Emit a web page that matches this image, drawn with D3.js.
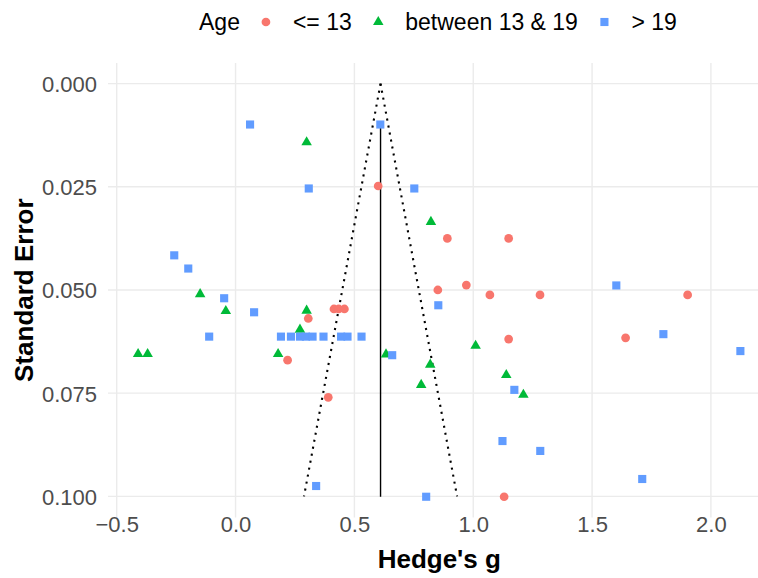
<!DOCTYPE html>
<html>
<head>
<meta charset="utf-8">
<script src="https://cdn.jsdelivr.net/npm/d3@7"></script>
<style>
body{margin:0;background:#fff;}
text{font-family:"Liberation Sans",Arial,Helvetica,sans-serif;}
</style>
</head>
<body>
<script>
// legend categories and colours (ggplot defaults)
var groups=["<= 13","between 13 & 19","> 19"];
var groupColors=["#F8766D","#00BA38","#619CFF"];

// Age <= 13 (circles)
var youngG=[0.600,0.891,1.149,0.851,0.971,1.070,1.281,1.902,0.414,0.434,0.458,0.306,1.149,1.641,0.219,0.390,1.130];
var youngSE=[0.0248,0.0375,0.0375,0.0500,0.0488,0.0512,0.0512,0.0512,0.0546,0.0546,0.0546,0.0569,0.0619,0.0616,0.0670,0.0760,0.1001];

// between 13 & 19 (triangles)
var teenG=[0.299,0.822,-0.149,-0.041,0.299,0.271,-0.410,-0.370,0.179,0.633,1.010,0.819,0.781,1.139,1.211];
var teenSE=[0.0142,0.0335,0.0510,0.0551,0.0550,0.0596,0.0655,0.0655,0.0655,0.0656,0.0635,0.0681,0.0730,0.0706,0.0754];

// > 19 (squares)
var adultG=[0.061,0.609,0.308,0.752,-0.258,-0.199,-0.048,0.078,1.602,0.853,-0.111,0.191,0.233,0.271,0.296,0.324,0.370,0.444,0.471,0.530,0.659,1.800,2.124,1.173,1.123,1.282,1.711,0.339,0.802];
var adultSE=[0.0099,0.0099,0.0254,0.0254,0.0416,0.0448,0.0520,0.0554,0.0489,0.0537,0.0613,0.0613,0.0613,0.0613,0.0613,0.0613,0.0613,0.0613,0.0613,0.0613,0.0658,0.0607,0.0648,0.0742,0.0866,0.0890,0.0958,0.0975,0.1001];

// pooled estimate and funnel ends (apex at se 0, base at se 0.1)
var pooledG=0.61;
var funnelSE=[0,0.1];
var funnelLower=[0.61,0.288];
var funnelUpper=[0.61,0.932];

// tick labels
var xTicks=[-0.5,0,0.5,1,1.5,2];
var yTicks=[0,0.025,0.05,0.075,0.1];

window.onload=function(){
	var w=758,h=578;
	var svg=d3.select("body").append("svg")
		.attr("width",w)
		.attr("height",h);

	var left=108,right=770.5,top=63,bottom=517.4;

	// ggplot style 5% expansion on both scales
	var allG=youngG.concat(teenG,adultG,funnelLower,funnelUpper);
	var gExt=d3.extent(allG), gPad=(gExt[1]-gExt[0])*0.05;
	var allSE=youngSE.concat(teenSE,adultSE,funnelSE);
	var sExt=d3.extent(allSE), sPad=(sExt[1]-sExt[0])*0.05;

	var x=d3.scaleLinear()
		.domain([gExt[0]-gPad,gExt[1]+gPad])
		.range([left,right]);
	var y=d3.scaleLinear()
		.domain([sExt[0]-sPad,sExt[1]+sPad])
		.range([top,bottom]); // reversed: 0 at top

	// grid
	var grid=svg.append("g").attr("class","grid");
	grid.selectAll(".vgrid")
		.data(xTicks)
		.enter()
		.append("line")
		.attr("x1",function(d){return x(d);})
		.attr("x2",function(d){return x(d);})
		.attr("y1",top)
		.attr("y2",bottom)
		.style("stroke","#EBEBEB")
		.style("stroke-width",1.4);
	grid.selectAll(".hgrid")
		.data(yTicks)
		.enter()
		.append("line")
		.attr("x1",left)
		.attr("x2",right)
		.attr("y1",function(d){return y(d);})
		.attr("y2",function(d){return y(d);})
		.style("stroke","#EBEBEB")
		.style("stroke-width",1.4);

	// axes (no lines, no ticks, just labels)
	var xAxis=d3.axisBottom(x)
		.tickValues(xTicks)
		.tickSize(0)
		.tickPadding(0)
		.tickFormat(d3.format(".1f"));
	var gx=svg.append("g")
		.attr("transform","translate(0,"+bottom+")")
		.call(xAxis);
	gx.select(".domain").remove();
	gx.selectAll("text")
		.attr("y",14.5)
		.attr("dy",0)
		.style("font-size","22px")
		.style("font-family","'Liberation Sans',Arial,sans-serif")
		.style("fill","#4D4D4D");

	var yAxis=d3.axisLeft(y)
		.tickValues(yTicks)
		.tickSize(0)
		.tickPadding(11)
		.tickFormat(d3.format(".3f"));
	var gy=svg.append("g")
		.attr("transform","translate("+left+",0)")
		.call(yAxis);
	gy.select(".domain").remove();
	gy.selectAll("text")
		.attr("dy","0.36em")
		.style("font-size","22px")
		.style("font-family","'Liberation Sans',Arial,sans-serif")
		.style("fill","#4D4D4D");

	// funnel (dotted) and pooled estimate
	var line=d3.line()
		.x(function(d){return x(d[0]);})
		.y(function(d){return y(d[1]);});
	[funnelLower,funnelUpper].forEach(function(side){
		svg.append("path")
			.datum(d3.zip(side,funnelSE))
			.attr("d",line)
			.style("fill","none")
			.style("stroke","#000")
			.style("stroke-width",2.1)
			.style("stroke-dasharray","2.1,5");
	});
	var dataSE=d3.extent(youngSE.concat(teenSE,adultSE));
	svg.append("line")
		.attr("x1",x(pooledG))
		.attr("x2",x(pooledG))
		.attr("y1",y(dataSE[0]))
		.attr("y2",y(dataSE[1]))
		.style("stroke","#000")
		.style("stroke-width",1.4);

	// points
	var symbols=[d3.symbolCircle,d3.symbolTriangle,d3.symbolSquare];
	var sizes=[60,48,66];
	var sets=[[youngG,youngSE],[teenG,teenSE],[adultG,adultSE]];
	var drawOrder=[1,0,2];
	drawOrder.forEach(function(k){
		var pts=d3.zip(sets[k][0],sets[k][1]);
		svg.selectAll(".pts"+k)
			.data(pts)
			.enter()
			.append("path")
			.attr("class","pts"+k)
			.attr("d",d3.symbol().type(symbols[k]).size(sizes[k]))
			.attr("transform",function(d){
				return "translate("+x(d[0])+","+y(d[1])+")";
			})
			.style("fill",groupColors[k]);
	});

	// axis titles
	svg.append("text")
		.attr("x",(left+right)/2)
		.attr("y",568)
		.attr("text-anchor","middle")
		.style("font-size","26px")
		.style("font-weight","bold")
		.text("Hedge's g");
	svg.append("text")
		.attr("transform","translate(33,"+((top+bottom)/2)+") rotate(-90)")
		.attr("text-anchor","middle")
		.style("font-size","26px")
		.style("font-weight","bold")
		.text("Standard Error");

	// legend on top
	var legend=svg.append("g").attr("class","legend");
	var lx=199, ly=30, keyY=22;
	var title=legend.append("text")
		.attr("x",lx)
		.attr("y",ly)
		.style("font-size","23px")
		.text("Age");
	lx+=title.node().getComputedTextLength()+26;
	groups.forEach(function(g,k){
		legend.append("path")
			.attr("d",d3.symbol().type(symbols[k]).size(sizes[k]))
			.attr("transform","translate("+lx+","+keyY+")")
			.style("fill",groupColors[k]);
		lx+=27;
		var t=legend.append("text")
			.attr("x",lx)
			.attr("y",ly)
			.style("font-size","23px")
			.text(g);
		lx+=t.node().getComputedTextLength()+26.5;
	});
};
</script>
</body>
</html>
